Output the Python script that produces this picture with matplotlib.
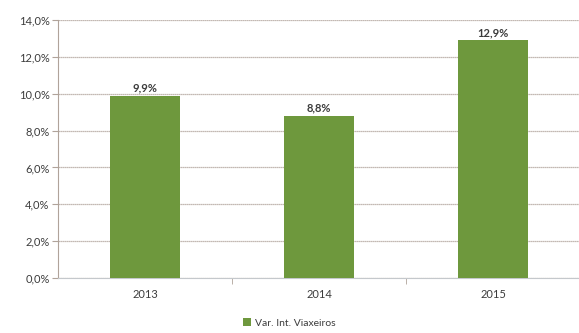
import matplotlib
matplotlib.use("Agg")
import matplotlib.pyplot as plt
from matplotlib.ticker import FuncFormatter, MultipleLocator

years = ["2013", "2014", "2015"]
var_viajeiros = [9.9, 8.8, 12.9]
series_name = "Var. Int. Viaxeiros"

plt.rcParams['font.family'] = ['Lato', 'DejaVu Sans']

fig = plt.figure(figsize=(5.79, 3.33), dpi=100)
ax = fig.add_axes([0.100, 0.165, 0.902, 0.775])

bar_color = "#6e983d"
text_color = "#3c3c3c"
grid_color = "#b0a39a"
axis_color = "#c4c8cc"

x = range(len(years))
bars = ax.bar(x, var_viajeiros, width=0.40, color=bar_color, label=series_name, zorder=3)

for xi, v in zip(x, var_viajeiros):
    ax.text(xi, v + 0.12, f"{v:.1f}%".replace(".", ","), ha="center", va="bottom",
            fontsize=8, color=text_color, fontweight="bold")

ax.set_ylim(0, 14)
ax.set_xlim(-0.5, len(years) - 0.5)
ax.yaxis.set_major_locator(MultipleLocator(2))
ax.yaxis.set_major_formatter(FuncFormatter(lambda v, p: f"{v:.1f}%".replace(".", ",")))
ax.grid(axis="y", color=grid_color, linewidth=0.9, linestyle=(0, (1, 0.6)), zorder=0)

ax.set_xticks(list(x))
ax.set_xticklabels(years)
ax.set_xticks([0.5, 1.5], minor=True)
ax.tick_params(axis="x", which="major", length=0, pad=8, labelsize=8, labelcolor=text_color)
ax.tick_params(axis="x", which="minor", length=4, color=grid_color, direction="out")
ax.tick_params(axis="y", length=4, color=grid_color, labelsize=8, labelcolor=text_color, pad=2)

for side in ["top", "right"]:
    ax.spines[side].set_visible(False)
ax.spines["left"].set_color(grid_color)
ax.spines["bottom"].set_color(axis_color)

leg = fig.legend(handles=[bars], labels=[series_name], loc="center", bbox_to_anchor=(0.5, 0.03),
                 frameon=False, fontsize=7.5, handlelength=0.7, handleheight=0.7, handletextpad=0.4)
for t in leg.get_texts():
    t.set_color(text_color)

fig.savefig("out.png", dpi=100)
